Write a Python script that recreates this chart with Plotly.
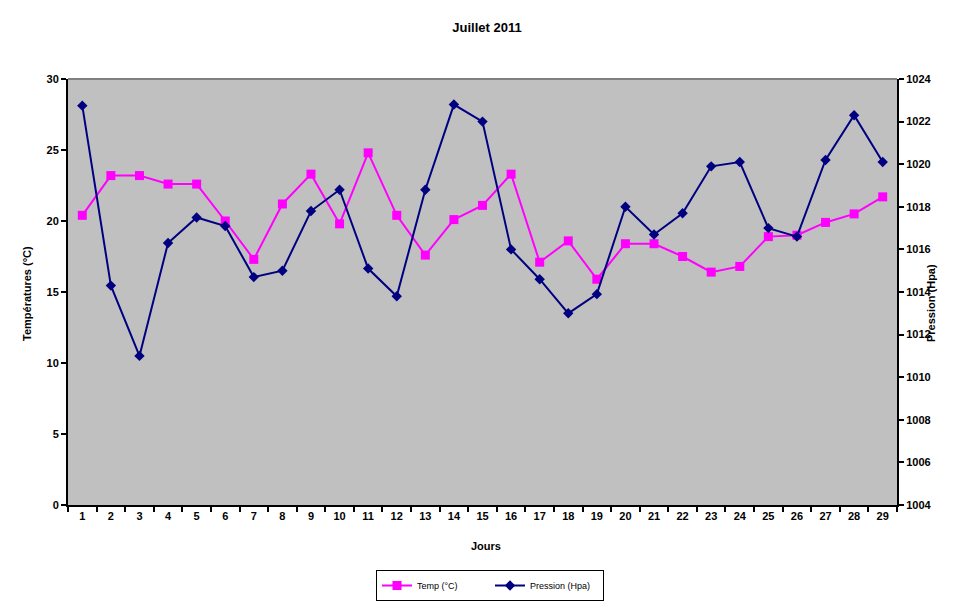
import plotly.graph_objects as go

days = [str(d) for d in range(1, 30)]
temp = [20.4, 23.2, 23.2, 22.6, 22.6, 20.0, 17.3, 21.2, 23.3, 19.8,
        24.8, 20.4, 17.6, 20.1, 21.1, 23.3, 17.1, 18.6, 15.9, 18.4,
        18.4, 17.5, 16.4, 16.8, 18.9, 19.0, 19.9, 20.5, 21.7]
pression = [1022.75, 1014.3, 1011.0, 1016.3, 1017.5, 1017.1, 1014.7, 1015.0, 1017.8, 1018.8,
            1015.1, 1013.8, 1018.8, 1022.8, 1022.0, 1016.0, 1014.6, 1013.0, 1013.9, 1018.0,
            1016.7, 1017.7, 1019.9, 1020.1, 1017.0, 1016.6, 1020.2, 1022.3, 1020.1]

FONT = "Liberation Sans, Arial, sans-serif"

fig = go.Figure()
fig.add_trace(go.Scatter(
    x=days, y=temp, name="Temp (°C)", mode="lines+markers",
    line=dict(color="#FF00FF", width=2),
    marker=dict(symbol="square", size=9, color="#FF00FF"),
))
fig.add_trace(go.Scatter(
    x=days, y=pression, name="Pression (Hpa)", mode="lines+markers", yaxis="y2",
    line=dict(color="#000080", width=2),
    marker=dict(symbol="diamond", size=8, color="#000080"),
))

fig.update_layout(
    width=958, height=594,
    margin=dict(l=60, r=69, t=71, b=97, autoexpand=False),
    paper_bgcolor="white",
    plot_bgcolor="#C0C0C0",
    font=dict(family=FONT, size=11, color="black"),
    title=dict(text="<b>Juillet 2011</b>", x=0.5, xanchor="center", y=1 - 19/594, yanchor="middle",
               font=dict(size=13, family=FONT, color="black")),
    showlegend=True,
    legend=dict(orientation="h", x=(490-68)/829, xanchor="center", y=-0.1526, yanchor="top",
                bordercolor="black", borderwidth=1, bgcolor="white",
                font=dict(size=9, family=FONT), itemwidth=30, entrywidth=68,
                tracegroupgap=0),
    xaxis=dict(type="category", range=[-0.5, 28.5], showgrid=False, showline=True,
               linecolor="black", linewidth=2,
               ticks="outside", ticklen=5, tickcolor="black", tickwidth=2, tickson="boundaries",
               tickfont=dict(size=11, family=FONT), title=None, zeroline=False,
               tickprefix="<b>", ticksuffix="</b>", automargin=False),
    yaxis=dict(range=[0, 30], dtick=5, showgrid=False, showline=True, linecolor="black",
               linewidth=2, ticks="outside", ticklen=5, tickcolor="black", tickwidth=2,
               zeroline=False, tickfont=dict(size=11, family=FONT),
               tickprefix="<b>", ticksuffix="</b>", title=None, automargin=False),
    yaxis2=dict(range=[1004, 1024], dtick=2, overlaying="y", side="right", showgrid=False,
                showline=True, linecolor="black", linewidth=2, ticks="outside", ticklen=5,
                tickcolor="black", tickwidth=2, zeroline=False,
                tickfont=dict(size=11, family=FONT),
                tickprefix="<b>", ticksuffix="</b>", title=None, automargin=False),
    shapes=[dict(type="line", xref="paper", yref="paper", x0=0, x1=1, y0=1, y1=1,
                 line=dict(color="#808080", width=2))],
    annotations=[
        dict(text="<b>Températures (°C)</b>", xref="paper", yref="paper",
             x=-41/829, y=(505-294)/426, textangle=-90, showarrow=False,
             xanchor="center", yanchor="middle", font=dict(size=11, family=FONT)),
        dict(text="<b>Pression (Hpa)</b>", xref="paper", yref="paper",
             x=(931-68)/829, y=(505-303)/426, textangle=-90, showarrow=False,
             xanchor="center", yanchor="middle", font=dict(size=11, family=FONT)),
        dict(text="<b>Jours</b>", xref="paper", yref="paper",
             x=(486-68)/829, y=-(546-505)/426, showarrow=False,
             xanchor="center", yanchor="middle", font=dict(size=11, family=FONT)),
    ],
)

fig.write_html("out.html")
